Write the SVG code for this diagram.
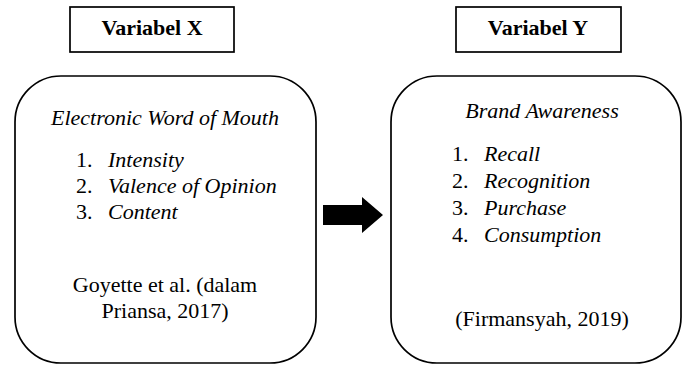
<svg xmlns="http://www.w3.org/2000/svg" width="683" height="366" viewBox="0 0 683 366">
<style>
.box{fill:#fff;stroke:#000;stroke-width:1.7}
text{font-size:22px;fill:#000}
.b{font-weight:bold}
.i{font-style:italic}
.m{text-anchor:middle}
</style>
<rect width="683" height="366" fill="#fff"/>
<g font-family="Liberation Serif, Tinos, Times New Roman, DejaVu Serif, serif">
<g id="varX">
<rect class="box" x="70" y="7" width="164" height="45"/>
<text class="b m" x="152" y="35">Variabel X</text>
</g>
<g id="varY">
<rect class="box" x="456" y="7" width="165" height="45"/>
<text class="b m" x="538" y="35">Variabel Y</text>
</g>
<g id="ewom">
<rect class="box" x="15" y="76" width="301" height="287" rx="46" ry="46"/>
<text class="i m" x="165" y="125">Electronic Word of Mouth</text>
<text x="76" y="167">1.</text><text class="i" x="108" y="167">Intensity</text>
<text x="76" y="193">2.</text><text class="i" x="108" y="193">Valence of Opinion</text>
<text x="76" y="219">3.</text><text class="i" x="108" y="219">Content</text>
<text class="m" x="165" y="292">Goyette et al. (dalam</text>
<text class="m" x="165" y="318">Priansa, 2017)</text>
</g>
<g id="brand">
<rect class="box" x="391" y="76" width="290" height="287" rx="46" ry="46"/>
<text class="i m" x="542" y="118">Brand Awareness</text>
<text x="452" y="161">1.</text><text class="i" x="484" y="161">Recall</text>
<text x="452" y="188">2.</text><text class="i" x="484" y="188">Recognition</text>
<text x="452" y="215">3.</text><text class="i" x="484" y="215">Purchase</text>
<text x="452" y="242">4.</text><text class="i" x="484" y="242">Consumption</text>
<text class="m" x="542" y="326">(Firmansyah, 2019)</text>
</g>
</g>
<g id="connectors">
<polygon points="323,205 362,205 362,197 383,215 362,233 362,225 323,225" fill="#000"/>
</g>
</svg>
